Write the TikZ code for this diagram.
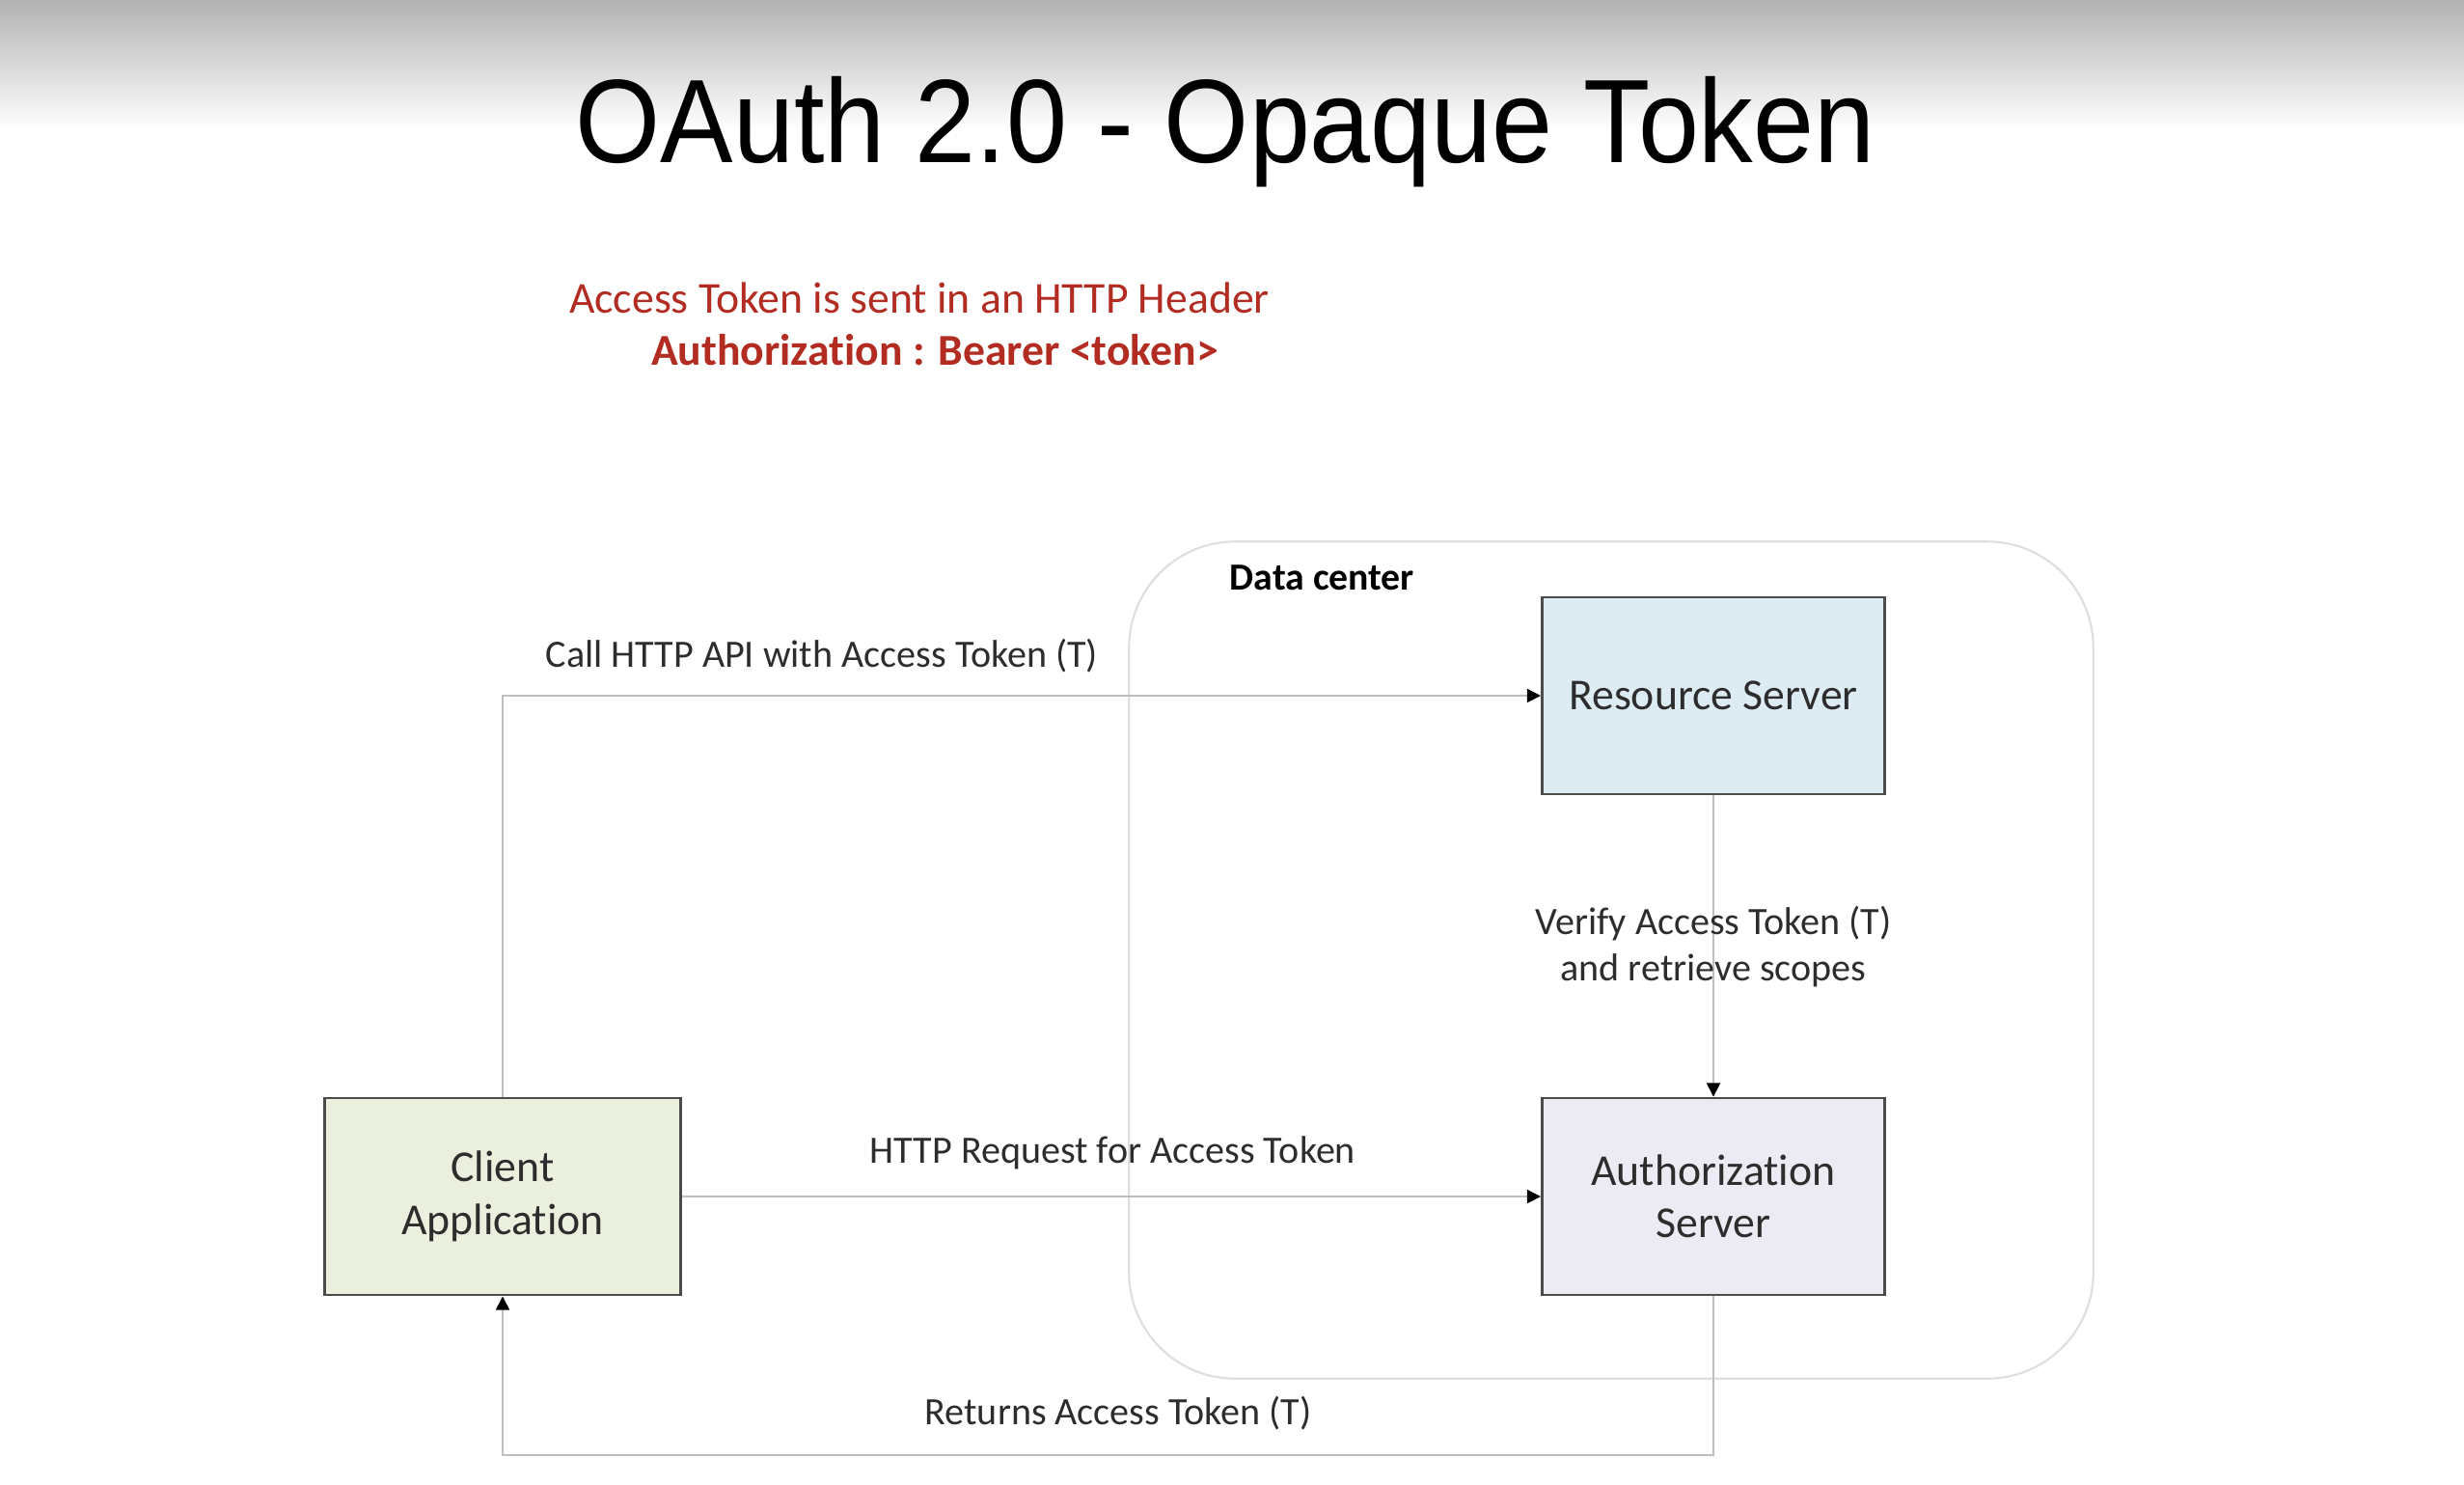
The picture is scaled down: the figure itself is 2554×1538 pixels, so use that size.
\documentclass[tikz,border=0pt]{standalone}
\usepackage{fontspec}
\setmainfont[Ligatures=NoCommon]{Carlito}
\newfontfamily\titlefont{Liberation Sans}
\usetikzlibrary{arrows.meta,positioning}

\definecolor{hdrred}{RGB}{178,44,34}
\definecolor{rsblue}{RGB}{221,235,243}
\definecolor{aslav}{RGB}{236,234,242}
\definecolor{clgreen}{RGB}{235,239,222}
\definecolor{linegray}{RGB}{190,190,190}
\definecolor{dcgray}{RGB}{222,222,222}
\definecolor{txtgray}{RGB}{45,45,45}

\begin{document}
\begin{tikzpicture}[
	x=0.01cm, y=-0.01cm,
	server/.style={
		draw=black!70, line width=0.8pt, align=center, text=txtgray,
		font=\fontsize{13}{15.5}\selectfont,
		minimum width=3.55cm, minimum height=2.04cm
	},
	conn/.style={draw=linegray, line width=0.45pt},
	tip/.style={-{Triangle[length=4pt,width=4pt,color=black]}},
	lbl/.style={text=txtgray, font=\fontsize{11.4}{13.9}\selectfont, inner sep=0pt}
	]
	
	\useasboundingbox (0,0) rectangle (2554,1538);
	\shade[top color=black!30, bottom color=white] (0,0) rectangle (2554,135);
	
	% Heading
	\node[anchor=base, inner sep=0pt, font=\titlefont\fontsize{35}{40}\selectfont] (title) at (1270,168) {\scalebox{0.92}[1]{OAuth 2.0 - Opaque Token}};
	\node[anchor=base, inner sep=0pt, text=hdrred, font=\fontsize{13}{15}\selectfont] (hdrnote) at (953,324) {Access Token is sent in an HTTP Header};
	\node[anchor=base, inner sep=0pt, text=hdrred, font=\bfseries\fontsize{13}{15}\selectfont] (hdrbearer) at (969,378) {Authorization : Bearer <token>};
	
	% Data center
	\node[draw=dcgray, line width=0.6pt, rounded corners=1.1cm, minimum width=9.99cm, minimum height=8.67cm] (dc) at (1670,995) {};
	\node[anchor=base west, inner sep=0pt, font=\bfseries\fontsize{11.3}{13}\selectfont] (dclabel) at (1274,611) {Data center};
	
	% Servers and client
	\node[server, fill=rsblue] (rs) at (1776,721) {Resource Server};
	\node[server, fill=aslav] (as) at (1776,1240) {Authorization\\Server};
	\node[server, fill=clgreen, minimum width=3.68cm] (client) at (521,1240) {Client\\Application};
	\coordinate (ret) at (1776,1508);
	
	% Connectors
	\draw[conn, tip] (client.north) |- (rs.west);
	\draw[conn, tip] (client.east) -- (as.west);
	\draw[conn, tip] (rs.south) -- (as.north);
	\draw[conn, tip] (as.south) -- (ret) -| (client.south);
	
	% Labels
	\node[lbl, anchor=base west] (callapi) at (565,691) {Call HTTP API with Access Token (T)};
	\node[lbl, anchor=base west] (reqtoken) at (901,1205) {HTTP Request for Access Token};
	\node[lbl, align=center] (verify) at (1776,981) {Verify Access Token (T)\\and retrieve scopes};
	\node[lbl, anchor=base west] (returns) at (958,1476) {Returns Access Token (T)};
	
\end{tikzpicture}
\end{document}
